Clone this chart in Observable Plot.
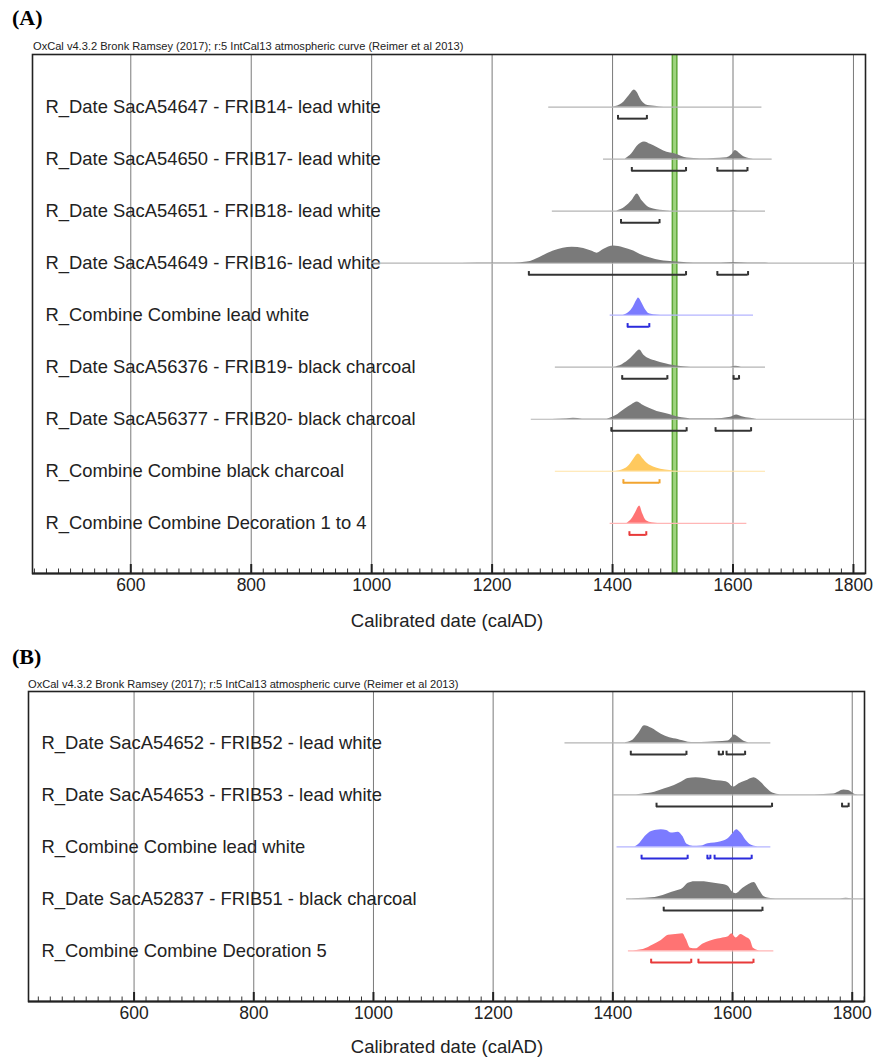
<!DOCTYPE html>
<html><head><meta charset="utf-8">
<script src="https://cdn.jsdelivr.net/npm/d3@7"></script>
<script src="https://cdn.jsdelivr.net/npm/@observablehq/plot@0.6"></script>
<style>
body{margin:0;background:#fff;}
#wrap{position:relative;width:874px;height:1059px;overflow:hidden;font-family:"Liberation Sans",Arial,sans-serif;color:#222}
.pl{position:absolute;left:12px;font:bold 22px "Liberation Serif","Times New Roman",serif;color:#000;line-height:26px}
.ox{position:absolute;font-size:11.1px;white-space:nowrap;color:#222;line-height:12px}
.xl{position:absolute;left:0;width:894px;text-align:center;font-size:18.5px;line-height:22px;color:#222}
.chart{position:absolute;left:0}
</style></head><body><div id="wrap">
<div class="pl" style="top:5px">(A)</div>
<div class="ox" style="left:33px;top:40px">OxCal v4.3.2 Bronk Ramsey (2017); r:5 IntCal13 atmospheric curve (Reimer et al 2013)</div>
<div class="chart" id="pa" style="top:53px"></div>
<div class="xl" style="top:610px">Calibrated date (calAD)</div>
<div class="pl" style="top:644px">(B)</div>
<div class="ox" style="left:28px;top:678px">OxCal v4.3.2 Bronk Ramsey (2017); r:5 IntCal13 atmospheric curve (Reimer et al 2013)</div>
<div class="chart" id="pb" style="top:690px"></div>
<div class="xl" style="top:1036px">Calibrated date (calAD)</div>
</div>
<script>
// ---------- Panel A data ----------
const labelsA = [
  "R_Date SacA54647 - FRIB14- lead white",
  "R_Date SacA54650 - FRIB17- lead white",
  "R_Date SacA54651 - FRIB18- lead white",
  "R_Date SacA54649 - FRIB16- lead white",
  "R_Combine Combine lead white",
  "R_Date SacA56376 - FRIB19- black charcoal",
  "R_Date SacA56377 - FRIB20- black charcoal",
  "R_Combine Combine black charcoal",
  "R_Combine Combine Decoration 1 to 4"
];
const kindsA = ["date","date","date","date","lead","date","date","charcoal","deco"];
// probability densities: [calendar year, relative density]
const rA1 = [[1400,0],[1405,0.03],[1412,0.12],[1419,0.3],[1425,0.55],[1430,0.78],[1436,1],[1441,0.85],[1446,0.5],[1451,0.25],[1455,0.14],[1462,0.08],[1470,0.05],[1485,0.01],[1495,0]];
const rA2 = [[1421,0],[1432,0.31],[1441,0.75],[1453,1],[1463,0.86],[1474,0.67],[1485,0.47],[1496,0.35],[1507,0.27],[1515,0.15],[1524,0.06],[1546,0.02],[1568,0.03],[1590,0.08],[1598,0.25],[1604,0.5],[1612,0.3],[1620,0.1],[1634,0]];
const rA3 = [[1407,0],[1421,0.24],[1432,0.6],[1441,1],[1449,0.6],[1457,0.3],[1468,0.12],[1490,0.02],[1502,0],[1595,0],[1601,0.03],[1608,0]];
const rA4 = [[1150,0],[1200,0.005],[1236,0.01],[1258,0.06],[1280,0.35],[1302,0.7],[1318,0.86],[1333,0.93],[1352,0.85],[1365,0.7],[1374,0.58],[1385,0.8],[1402,1],[1418,0.9],[1435,0.7],[1446,0.5],[1463,0.3],[1480,0.15],[1501,0.08],[1524,0.03],[1546,0.01],[1580,0.01],[1601,0.04],[1625,0.01],[1660,0]];
const rA5 = [[1418,0],[1427,0.15],[1434,0.45],[1440,0.85],[1443,1],[1449,0.7],[1455,0.3],[1460,0.1],[1468,0.03],[1480,0]];
const rA6 = [[1402,0],[1416,0.15],[1430,0.5],[1438,0.8],[1445,1],[1452,0.7],[1460,0.5],[1474,0.33],[1488,0.2],[1501,0.1],[1518,0.03],[1530,0],[1596,0],[1604,0.05],[1614,0]];
const rA7 = [[1300,0],[1324,0.03],[1335,0.05],[1350,0.01],[1391,0.02],[1405,0.2],[1421,0.6],[1432,0.85],[1441,1],[1449,0.85],[1460,0.65],[1474,0.45],[1488,0.33],[1501,0.2],[1515,0.08],[1529,0.03],[1568,0.03],[1596,0.12],[1606,0.25],[1615,0.15],[1629,0.05],[1640,0]];
const rA8 = [[1405,0],[1418,0.1],[1428,0.35],[1436,0.75],[1443,1],[1450,0.75],[1458,0.45],[1468,0.25],[1480,0.12],[1495,0.04],[1510,0]];
const rA9 = [[1424,0],[1432,0.25],[1438,0.6],[1445,1],[1450,0.55],[1456,0.15],[1466,0.03],[1475,0]];
const densA = [rA1, rA2, rA3, rA4, rA5, rA6, rA7, rA8, rA9];
// baseline extent of each row [from, to]
const spanA = [[1294,1648],[1385,1665],[1300,1654],[1000,1820],[1396,1634],[1305,1654],[1265,1820],[1305,1654],[1396,1623]];
// 95.4% ranges: [row, from, to]
const rangesA = [[0,1409,1457],[1,1432,1522],[1,1574,1624],[2,1414,1478],[3,1261,1522],[3,1574,1625],[4,1425,1461],[5,1416,1491],[5,1601,1610],[6,1398,1523],[6,1571,1630],[7,1418,1478],[8,1428,1456]];
const markerA = [1503];

// ---------- Panel B data ----------
const labelsB = [
  "R_Date SacA54652 - FRIB52 - lead white",
  "R_Date SacA54653 - FRIB53 - lead white",
  "R_Combine Combine lead white",
  "R_Date SacA52837 - FRIB51 - black charcoal",
  "R_Combine Combine Decoration 5"
];
const kindsB = ["date","date","lead","date","deco"];
const rB1 = [[1420,0],[1431,0.1],[1443,0.55],[1453,1],[1465,0.85],[1481,0.5],[1495,0.3],[1509,0.2],[1517,0.12],[1526,0.04],[1537,0.02],[1559,0.03],[1575,0.06],[1592,0.1],[1599,0.3],[1603,0.45],[1611,0.3],[1620,0.08],[1630,0]];
const rB2 = [[1431,0],[1448,0.04],[1470,0.15],[1487,0.35],[1503,0.55],[1515,0.75],[1526,0.95],[1539,1],[1553,0.95],[1567,0.85],[1581,0.8],[1592,0.72],[1602,0.45],[1611,0.65],[1622,0.8],[1636,1],[1647,0.75],[1658,0.35],[1667,0.1],[1680,0.01],[1736,0.01],[1769,0.05],[1786,0.28],[1794,0.25],[1805,0.02],[1815,0]];
const rB3 = [[1437,0],[1445,0.2],[1454,0.6],[1462,0.85],[1473,0.97],[1481,1],[1490,0.95],[1498,0.8],[1509,0.85],[1517,0.6],[1524,0.15],[1534,0.04],[1548,0.05],[1559,0.18],[1570,0.22],[1581,0.3],[1592,0.45],[1600,0.75],[1607,1],[1614,0.8],[1622,0.4],[1631,0.1],[1642,0]];
const rB4 = [[1431,0],[1454,0.03],[1476,0.12],[1492,0.3],[1506,0.45],[1517,0.6],[1526,0.9],[1537,1],[1553,1],[1564,0.93],[1581,0.85],[1592,0.75],[1600,0.4],[1606,0.3],[1617,0.6],[1628,0.85],[1636,0.95],[1645,0.5],[1653,0.12],[1664,0.02],[1680,0],[1780,0],[1790,0.03],[1800,0]];
const rB5 = [[1429,0],[1451,0.08],[1468,0.35],[1481,0.6],[1493,0.9],[1509,0.97],[1517,1],[1523,0.65],[1530,0.15],[1539,0.12],[1551,0.4],[1562,0.55],[1570,0.65],[1581,0.72],[1592,0.8],[1599,1],[1606,0.75],[1614,0.95],[1622,0.8],[1630,0.6],[1635,0.15],[1645,0]];
const densB = [rB1, rB2, rB3, rB4, rB5];
const spanB = [[1320,1664],[1401,1820],[1407,1664],[1423,1820],[1426,1669]];
const rangesB = [[0,1430,1523],[0,1577,1584],[0,1590,1621],[1,1473,1666],[1,1783,1794],[2,1448,1525],[2,1558,1563],[2,1570,1632],[3,1485,1650],[4,1464,1531],[4,1543,1635]];

// ---------- shared ----------
const tickYears = [600, 800, 1000, 1200, 1400, 1600, 1800];
const palette = {
  date:     {fill: "#7a7a7a", base: "#b4b4b4", range: "#333333"},
  lead:     {fill: "#7b7bff", base: "#b4b4ff", range: "#2b2bdc"},
  charcoal: {fill: "#ffc95e", base: "#ffe3a6", range: "#f2a530"},
  deco:     {fill: "#ff7373", base: "#ffb6b6", range: "#e83a3a"}
};

function panel({labels, kinds, dens, spans, ranges, markers, xDomain, yDomain, marginLeft, marginRight, innerHeight}) {
  const H = 0.33;           // row units per unit density
  const yBottom = yDomain[1];
  const px = (yDomain[1] - yDomain[0]) / innerHeight; // row units per pixel
  const minor = d3.range(440, 1821, 20).filter(v => v > xDomain[0] && v < xDomain[1] && v % 200 !== 0);
  const marks = [];
  marks.push(Plot.ruleX(tickYears, {stroke: "#7a7a7a", strokeWidth: 1}));
  marks.push(Plot.ruleX(minor, {y1: yBottom, y2: yBottom - 4.5 * px, stroke: "#333", strokeWidth: 1}));
  marks.push(Plot.ruleX(tickYears, {y1: yBottom, y2: yBottom - 9 * px, stroke: "#222", strokeWidth: 2}));
  if (markers) {
    marks.push(Plot.ruleX(markers, {stroke: "#5fa83a", strokeWidth: 6}));
    marks.push(Plot.ruleX(markers, {stroke: "#9fd47f", strokeWidth: 3}));
  }
  marks.push(Plot.text(labels, {frameAnchor: "left", y: (d, i) => i, text: d => d, dx: 13, textAnchor: "start", fontSize: 18.4, fill: "#222"}));
  spans.forEach((s, i) => {
    marks.push(Plot.ruleY([i], {x1: s[0], x2: s[1], stroke: palette[kinds[i]].base, strokeWidth: 1.2}));
  });
  dens.forEach((pts, i) => {
    marks.push(Plot.area(pts, {x1: d => d[0], y1: () => i, y2: d => i - d[1] * H, fill: palette[kinds[i]].fill, curve: "monotone-x"}));
  });
  const off = 11.6 * px, cap = 3.2 * px;
  marks.push(Plot.ruleY(ranges, {y: d => d[0] + off, x1: d => d[1], x2: d => d[2], stroke: d => palette[kinds[d[0]]].range, strokeWidth: 2}));
  marks.push(Plot.ruleX(ranges, {x: d => d[1], y1: d => d[0] + off + px, y2: d => d[0] + off - cap, stroke: d => palette[kinds[d[0]]].range, strokeWidth: 2}));
  marks.push(Plot.ruleX(ranges, {x: d => d[2], y1: d => d[0] + off + px, y2: d => d[0] + off - cap, stroke: d => palette[kinds[d[0]]].range, strokeWidth: 2}));
  marks.push(Plot.ruleY([yBottom], {stroke: "#222", strokeWidth: 2}));
  marks.push(Plot.frame({stroke: "#222", strokeWidth: 1.6}));
  marks.push(Plot.axisX(tickYears, {tickSize: 0, tickPadding: 5, tickFormat: d => String(d), fontSize: 17.5, fill: "#222", label: null}));
  return Plot.plot({
    width: 874,
    height: 1 + innerHeight + 32,
    marginTop: 1,
    marginBottom: 32,
    marginLeft, marginRight,
    style: {fontFamily: "'Liberation Sans', Arial, sans-serif", background: "transparent", overflow: "visible"},
    x: {domain: xDomain, axis: null},
    y: {domain: yDomain, reverse: true, axis: null},
    color: {type: "identity"},
    marks
  });
}

document.getElementById("pa").append(panel({
  labels: labelsA, kinds: kindsA, dens: densA, spans: spanA, ranges: rangesA, markers: markerA,
  xDomain: [436.8, 1820], yDomain: [-1.01, 8.965], marginLeft: 32, marginRight: 9, innerHeight: 519
}));
document.getElementById("pb").append(panel({
  labels: labelsB, kinds: kindsB, dens: densB, spans: spanB, ranges: rangesB, markers: null,
  xDomain: [423.6, 1820.5], yDomain: [-0.987, 4.975], marginLeft: 28, marginRight: 10, innerHeight: 310
}));
</script>
</body></html>
